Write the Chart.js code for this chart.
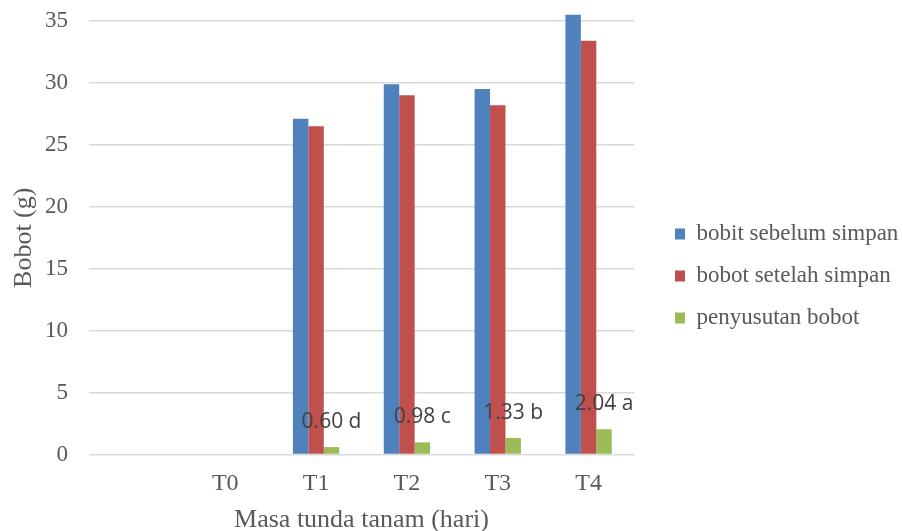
<!DOCTYPE html>
<html>
<head>
<meta charset="utf-8">
<script src="https://cdn.jsdelivr.net/npm/chart.js@4/dist/chart.umd.min.js"></script>
<style>
  html, body { margin: 0; padding: 0; background: #ffffff; }
  #wrap { width: 903px; height: 531px; position: relative; }
</style>
</head>
<body>
<div id="wrap"><canvas id="chart"></canvas></div>
<script>
// Perlakuan (masa tunda tanam) — the first slot is an empty category
const categories = ["", "T0", "T1", "T2", "T3", "T4"];

// Bobot umbi (g)
const bobitSebelumSimpan = [null, null, 27.1, 29.9, 29.5, 35.5];
const bobotSetelahSimpan = [null, null, 26.5, 29.0, 28.2, 33.4];
const penyusutanBobot    = [null, null, 0.60, 0.98, 1.33, 2.04];

// Notasi uji lanjut for the shrinkage values
const notasi = [null, null, "d", "c", "b", "a"];

// Y axis range and tick step
const yMin = 0;
const yMax = 35;
const yStep = 5;

const serif = "'Liberation Serif', 'Times New Roman', serif";
const grey = "#595959";

// Writes "value letter" above each shrinkage bar
const labelPlugin = {
  id: "notasiLabels",
  afterDatasetsDraw(chart) {
    const meta = chart.getDatasetMeta(2);
    const ctx = chart.ctx;
    ctx.save();
    ctx.font = "21px 'Open Sans', sans-serif";
    ctx.fillStyle = "#404040";
    ctx.textAlign = "center";
    ctx.textBaseline = "middle";
    meta.data.forEach((bar, i) => {
      const v = penyusutanBobot[i];
      if (v === null) return;
      ctx.fillText(v.toFixed(2) + " " + notasi[i], bar.x, bar.y - 25);
    });
    ctx.restore();
  }
};

// Vertical axes: fixed width, no extra room reserved above/below
function fixVertical(width) {
  return (scale) => {
    scale.width = width;
    scale.paddingTop = 0;
    scale.paddingBottom = 0;
  };
}

new Chart(document.getElementById("chart"), {
  type: "bar",
  data: {
    labels: categories,
    datasets: [
      { label: "bobit sebelum simpan", data: bobitSebelumSimpan, backgroundColor: "#4F81BD", clip: false },
      { label: "bobot setelah simpan", data: bobotSetelahSimpan, backgroundColor: "#C0504D", clip: false },
      { label: "penyusutan bobot", data: penyusutanBobot, backgroundColor: "#9BBB59", clip: false }
    ]
  },
  options: {
    responsive: true,
    maintainAspectRatio: false,
    animation: false,
    layout: { padding: { top: 21, right: 0, bottom: 0, left: 0 } },
    datasets: { bar: { barPercentage: 1.0, categoryPercentage: 0.51 } },
    scales: {
      x: {
        grid: { display: false },
        border: { display: false },
        ticks: { color: grey, font: { family: serif, size: 24 }, padding: 7, maxRotation: 0 },
        title: {
          display: true, text: "Masa tunda tanam (hari)", color: grey,
          font: { family: serif, size: 26, lineHeight: 0.85 }, padding: { top: 0, bottom: 0 }
        },
        afterFit(scale) {
          scale.height = 76.5;
          scale.paddingLeft = 0;
          scale.paddingRight = 0;
        }
      },
      y: {
        min: yMin, max: yMax,
        grid: { color: "#D9D9D9", lineWidth: 1.5, drawTicks: false },
        border: { display: false },
        ticks: { stepSize: yStep, color: grey, font: { family: serif, size: 23 }, padding: 21 },
        title: {
          display: true, text: "Bobot (g)", color: grey,
          font: { family: serif, size: 26 }, padding: { top: 9, bottom: 0 }
        },
        afterFit: fixVertical(89)
      },
      gap: {
        position: "right",
        display: true,
        grid: { display: false },
        border: { display: false },
        ticks: { display: false },
        afterFit: fixVertical(22)
      }
    },
    plugins: {
      legend: {
        position: "right",
        align: "center",
        maxWidth: 247,
        labels: {
          boxWidth: 10, boxHeight: 11, padding: 19,
          color: grey, font: { family: serif, size: 23 }
        }
      },
      tooltip: { enabled: false }
    }
  },
  plugins: [labelPlugin]
});
</script>
</body>
</html>
